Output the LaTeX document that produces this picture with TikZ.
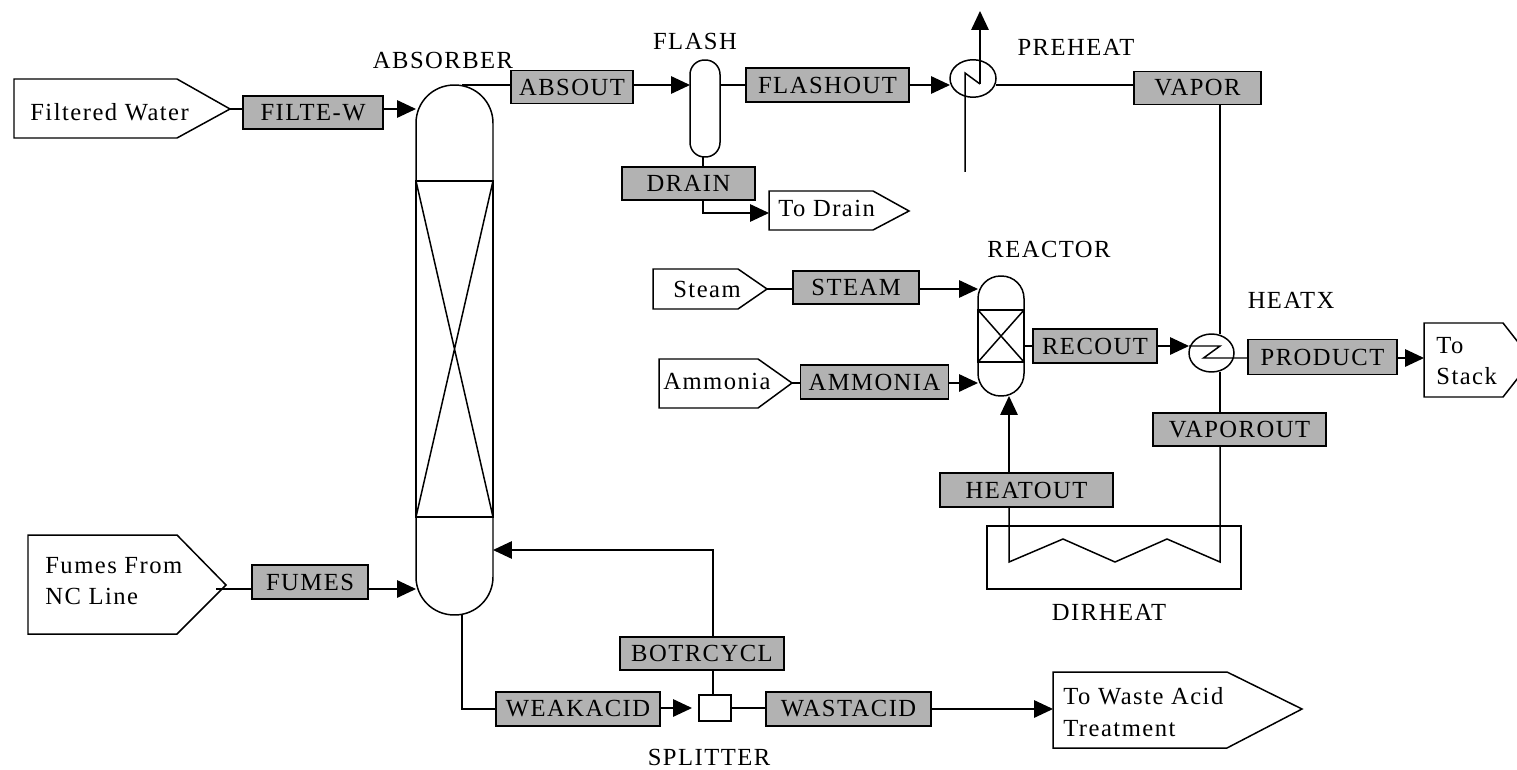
\documentclass[tikz,border=0pt]{standalone}
\usepackage{fontspec}
\setmainfont[LetterSpace=6]{Liberation Serif}
\usetikzlibrary{arrows.meta,shapes.geometric}
\definecolor{streamgray}{HTML}{B2B2B2}
\tikzset{
  every node/.style={font=\fontsize{14pt}{18pt}\selectfont},
  flow/.style={line width=0.85pt},
  flowto/.style={flow, -{Triangle[length=0.38cm,width=0.35cm]}},
  streambox/.style={draw, fill=streamgray, line width=1pt, inner sep=0pt, outer sep=0pt},
  vessel/.style={draw, line width=0.85pt, inner sep=0pt, outer sep=0pt},
  plainlbl/.style={inner sep=0pt, align=left},
}
\begin{document}
\begin{tikzpicture}[x=0.02cm,y=-0.02cm]
\clip (0,0) rectangle (1517,770);
% vessels
\node[vessel, minimum width=1.54cm, minimum height=10.6cm, rounded corners=0.76cm] (absorber) at (454.5,350) {};
\node[vessel, minimum width=1.54cm, minimum height=6.72cm] (abspack) at (454.5,349) {};
\draw[flow] (abspack.north west) -- (abspack.south east) (abspack.north east) -- (abspack.south west);
\node[vessel, minimum width=0.6cm, minimum height=1.94cm, rounded corners=0.29cm] (flash) at (705,108.5) {};
\node[vessel, minimum width=0.92cm, minimum height=2.4cm, rounded corners=0.45cm] (reactor) at (1001,336) {};
\node[vessel, minimum width=0.92cm, minimum height=1.04cm] (reacbed) at (1001,336) {};
\draw[flow] (reacbed.north west) -- (reacbed.south east) (reacbed.north east) -- (reacbed.south west);
\node[vessel, ellipse, minimum width=0.92cm, minimum height=0.75cm] (preheat) at (973,78.5) {};
\node[vessel, ellipse, minimum width=0.9cm, minimum height=0.76cm] (heatx) at (1211.5,353) {};
\node[vessel, minimum width=0.64cm, minimum height=0.52cm] (splitter) at (715,708) {};
\node[vessel, minimum width=5.08cm, minimum height=1.26cm] (dirheat) at (1114,557.5) {};
% terminal outlines, with a coordinate at the tip and one on the back edge
\foreach \n/\xa/\xb/\xc/\ya/\yb/\yc in {
  filtwater/14/177/230/79/138/109, fumesin/28/177/226/535/634/585,
  todrain/769/873/909/191/230/211, steamin/653/738/767/269/309/289,
  ammoniain/659/758/792/359/408/383, tostack/1424/1503/1532/323/397/360,
  towaste/1053/1227/1302/672/748/709} {
  \draw[flow] (\xa,\ya) -- (\xb,\ya) -- (\xc,\yc) -- (\xb,\yb) -- (\xa,\yb) -- cycle;
  \coordinate (\n tip) at (\xc,\yc);
  \coordinate (\n back) at (\xa,\yc);
}
% terminal texts
\foreach \n/\l/\x/\y in {
  filtwatertxt/Filtered Water/30/112, fumesintxt/{Fumes From\\NC Line}/45/581,
  todraintxt/To Drain/778/208, steamintxt/Steam/673/289,
  ammoniaintxt/Ammonia/663/381, tostacktxt/{To\\Stack}/1436/361,
  towastetxt/{To Waste Acid\\Treatment}/1063/712} {
  \node[plainlbl, anchor=west] (\n) at (\x,\y) {\l};
}
% streams
\foreach \n/\l/\x/\y/\w/\h in {
  filtew/FILTE-W/313/112.5/140/33, absout/ABSOUT/572/87/122/33,
  flashout/FLASHOUT/827.5/85/163/34, vapor/VAPOR/1197.5/88/127/33,
  drainbox/DRAIN/688.5/183.5/133/33, steambox/STEAM/856/287.5/126/33,
  ammoniabox/AMMONIA/874.5/382/148/34, recout/RECOUT/1095/346/124/34,
  product/PRODUCT/1322.5/357/149/35, vaporout/VAPOROUT/1239.5/429.5/173/33,
  heatout/HEATOUT/1026.5/490/173/34, fumes/FUMES/310/582/116/34,
  botrcycl/BOTRCYCL/702/653.5/164/33, weakacid/WEAKACID/578/709/164/34,
  wastacid/WASTACID/848.5/709/165/34} {
  \node[streambox, minimum width=\w*0.02cm, minimum height=\h*0.02cm] (\n) at (\x,\y) {\l};
}
% labels
\foreach \n/\l/\x/\y in {
  absorberlbl/ABSORBER/443/60, flashlbl/FLASH/695/41, preheatlbl/PREHEAT/1076/47,
  reactorlbl/REACTOR/1049/249, heatxlbl/HEATX/1291/300, dirheatlbl/DIRHEAT/1109/612,
  splitterlbl/SPLITTER/709/757} {
  \node[plainlbl] (\n) at (\x,\y) {\l};
}
% free ends and coil points
\coordinate (absoutstart) at (462,85);
\coordinate (drainline) at (703,213);
\coordinate (botturn) at (713,550);
\coordinate (preheatin) at (965,172);
\coordinate (preheatbend) at (965,73);
\coordinate (preheatkink) at (980,84);
\coordinate (preheatout) at (980,11);
\coordinate (heatxkink) at (1220,346);
\coordinate (heatxback) at (1203.5,358);
\coordinate (heatrise) at (1009,562);
\coordinate (fumesline) at (216,589);
\coordinate (weakend) at (692,708);
% connectors
\draw[flow] (filtwatertip) -- (filtwatertip -| filtew.west);
\draw[flowto] (filtew.east |- filtwatertip) -- (filtwatertip -| absorber.west);
\draw[flow] (absoutstart) -- (absoutstart -| absout.west);
\draw[flowto] (absoutstart -| absout.east) -- (absoutstart -| flash.west);
\draw[flow] (absoutstart -| flash.east) -- (absoutstart -| flashout.west);
\draw[flowto] (absoutstart -| flashout.east) -- (absoutstart -| preheat.west);
\draw[flow] (preheatin) -- (preheatbend) -- (preheatkink);
\draw[flowto] (preheatkink) -- (preheatout);
\draw[flow] (absoutstart -| preheat.east) -- (absoutstart -| vapor.west);
\draw[flow] (flash.south -| drainline) -- (drainbox.north -| drainline);
\draw[flowto] (drainbox.south -| drainline) -- (drainline) -- (drainline -| todrainback);
\draw[flow] (steamintip) -- (steamintip -| steambox.west);
\draw[flowto] (steamintip -| steambox.east) -- (steamintip -| reactor.west);
\draw[flow] (ammoniaintip) -- (ammoniaintip -| ammoniabox.west);
\draw[flowto] (ammoniaintip -| ammoniabox.east) -- (ammoniaintip -| reactor.west);
\draw[flow] (reactor.east |- recout.west) -- (recout.west);
\draw[flowto] (recout.east) -- (recout.east -| heatx.west);
\draw[flow] (heatx.west |- recout.east) -- (heatxkink) -- (heatxback) -- (heatxback -| product.west);
\draw[flowto] (heatxback -| product.east) -- (heatxback -| tostackback);
\draw[flow] (vapor.south -| heatxkink) -- (heatx.north -| heatxkink);
\draw[flow] (heatx.south -| heatxkink) -- (vaporout.north -| heatxkink);
\draw[flow] (vaporout.south -| heatxkink) -- (heatrise -| heatxkink) -- (1167,539) -- (1115,562) -- (1063,539) -- (heatrise) -- (heatout.south -| heatrise);
\draw[flowto] (heatout.north -| heatrise) -- (reactor.south -| heatrise);
\draw[flow] (fumesline) -- (fumesline -| fumes.west);
\draw[flowto] (fumesline -| fumes.east) -- (fumesline -| absorber.west);
\draw[flow] (absorber.south -| absoutstart) |- (weakacid.west);
\draw[flowto] (weakacid.east |- weakend) -- (weakend);
\draw[flow] (splitter.east) -- (splitter.east -| wastacid.west);
\draw[flowto] (wastacid.east) -- (wastacid.east -| towasteback);
\draw[flow] (splitter.north -| botturn) -- (botrcycl.south -| botturn);
\draw[flowto] (botrcycl.north -| botturn) -- (botturn) -- (botturn -| absorber.east);
\end{tikzpicture}
\end{document}
